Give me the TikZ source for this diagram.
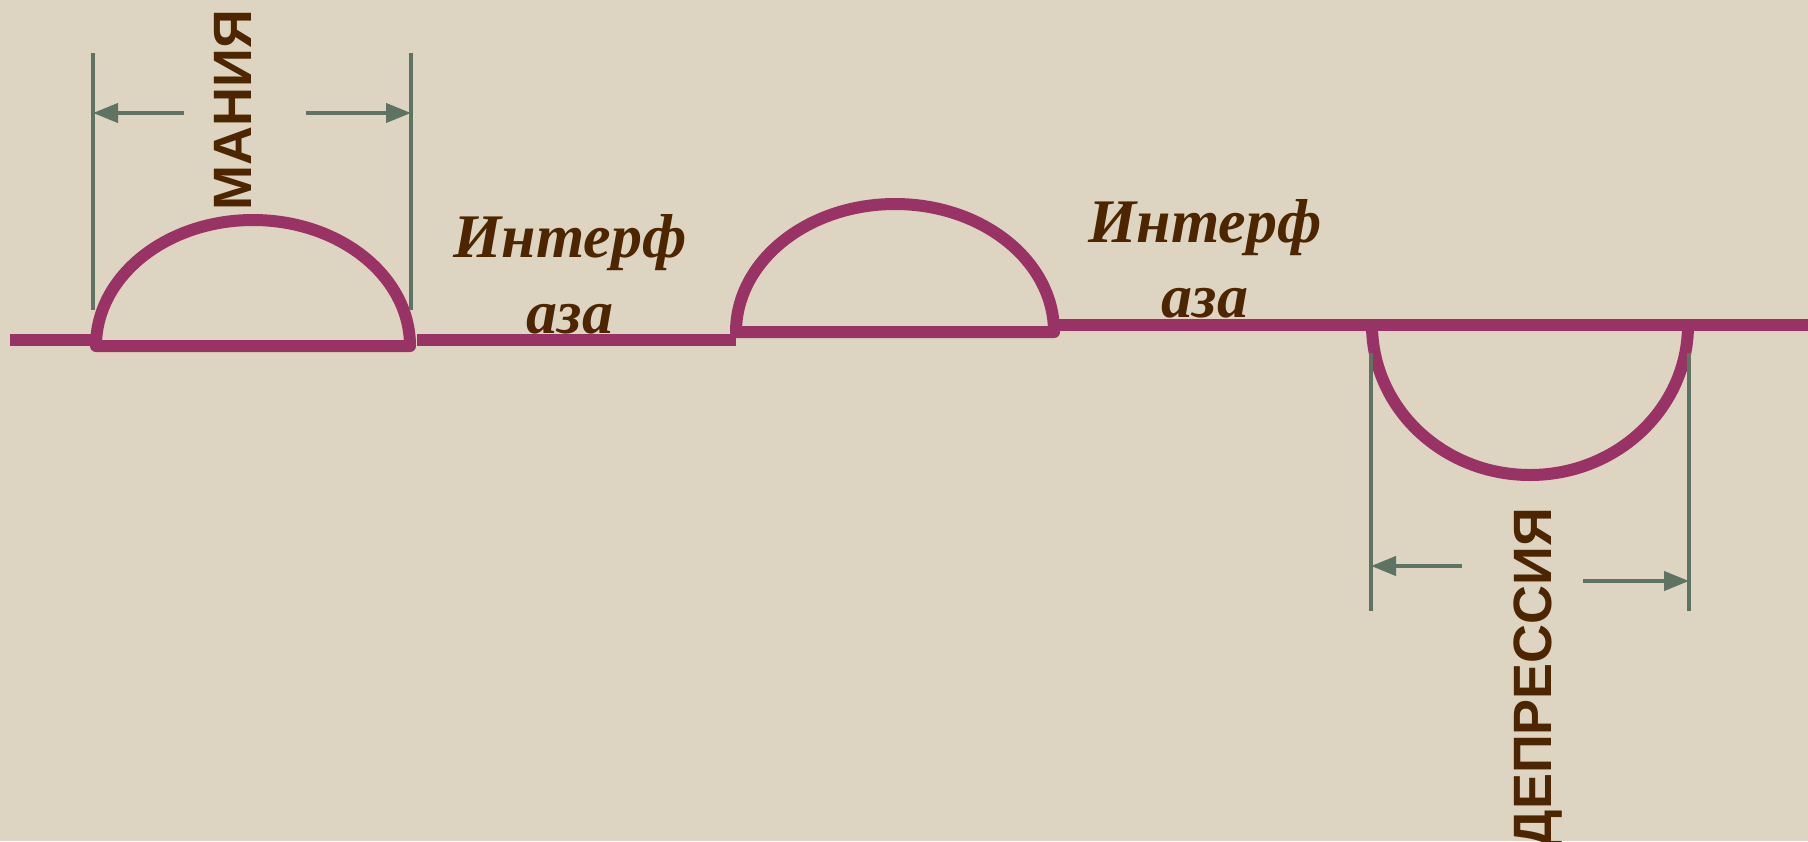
\documentclass[tikz,border=0pt]{standalone}
\usepackage{fontspec}
\setmainfont{Liberation Serif}
\setsansfont{Liberation Sans}
\usetikzlibrary{arrows.meta,positioning}
\definecolor{paper}{RGB}{221,213,193}
\definecolor{phasecol}{RGB}{153,51,102}
\definecolor{dimcol}{RGB}{95,115,99}
\definecolor{textcol}{RGB}{77,38,0}

\begin{document}
\begin{tikzpicture}[x=0.5pt,y=0.5pt,
  phase/.style={phasecol, line width=6pt, line join=round},
  dimline/.style={dimcol, line width=2pt},
  dimarrow/.style={dimcol, line width=2pt, -{Triangle[length=12.5pt,width=9.5pt]}},
  statelabel/.style={font=\sffamily\bfseries\fontsize{27}{31}\selectfont, text=textcol, rotate=90, inner sep=0pt},
  interlabel/.style={font=\bfseries\itshape\fontsize{31}{38}\selectfont, text=textcol, inner sep=0pt}]
\fill[paper] (0,0) rectangle (1808,-841);
\useasboundingbox (0,0) rectangle (1808,-841);

% time line and phases
\coordinate (a0) at (10,-340);
\coordinate (a1) at (96,-340);
\coordinate (m0) at (96,-346);
\coordinate (b0) at (417,-340);
\coordinate (b1) at (736,-340);
\coordinate (i0) at (736,-332);
\coordinate (c0) at (1054,-325);
\coordinate (c1) at (1808,-325);
\coordinate (d0) at (1372,-325);
\draw[phase] (a0) -- (a1);
\draw[phase] (m0) arc[start angle=180, end angle=0, x radius=157, y radius=126] -- cycle;
\draw[phase] (b0) -- (b1);
\draw[phase] (i0) arc[start angle=180, end angle=0, x radius=159, y radius=128] -- cycle;
\draw[phase] (c0) -- (c1);
\draw[phase] (d0) arc[start angle=180, end angle=360, x radius=158, y radius=150];

% mania
\coordinate (mt0) at (93,-53);
\coordinate (mb0) at (93,-310);
\coordinate (mt1) at (411,-53);
\coordinate (mb1) at (411,-310);
\draw[dimline] (mt0) -- (mb0);
\draw[dimline] (mt1) -- (mb1);
\coordinate (ma0) at (184,-113);
\coordinate (ma1) at (93,-113);
\coordinate (ma2) at (306,-113);
\coordinate (ma3) at (411,-113);
\draw[dimarrow] (ma0) -- (ma1);
\draw[dimarrow] (ma2) -- (ma3);
\node[statelabel, anchor=base east] (mania) at (251,-9) {МАНИЯ};

% depression
\coordinate (dt0) at (1371,-353);
\coordinate (db0) at (1371,-611);
\coordinate (dt1) at (1689,-353);
\coordinate (db1) at (1689,-611);
\draw[dimline] (dt0) -- (db0);
\draw[dimline] (dt1) -- (db1);
\coordinate (da0) at (1462,-566);
\coordinate (da1) at (1371,-566);
\coordinate (da2) at (1583,-581);
\coordinate (da3) at (1689,-581);
\draw[dimarrow] (da0) -- (da1);
\draw[dimarrow] (da2) -- (da3);
\node[statelabel, anchor=base east] (depression) at (1551,-507) {ДЕПРЕССИЯ};

% interphases
\node[interlabel, anchor=base] (inter1) at (570,-257) {Интерф};
\node[interlabel, anchor=base] (inter1b) at (570,-333) {аза};
\node[interlabel, anchor=base] (inter2) at (1205,-242) {Интерф};
\node[interlabel, anchor=base] (inter2b) at (1205,-317) {аза};
\end{tikzpicture}
\end{document}
